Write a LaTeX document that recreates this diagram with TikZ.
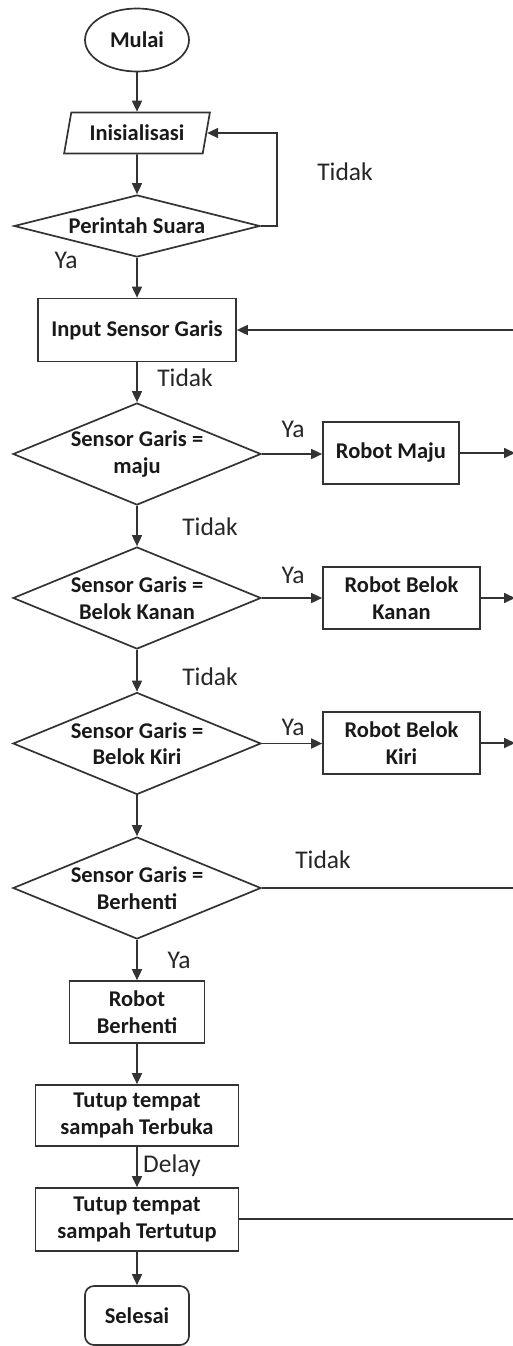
\documentclass[tikz,border=0pt]{standalone}
\usepackage{fontspec}
\setmainfont{Carlito}
\usetikzlibrary{shapes.geometric,arrows.meta}
\begin{document}
\begin{tikzpicture}[x=1pt,y=-1pt,
  line/.style={draw=black!80, line width=1.7pt},
  arr/.style={line, -{Triangle[length=11pt,width=10pt]}},
  box/.style={draw=black!80, line width=1.7pt, rectangle, inner sep=0pt, align=center,
              font=\fontsize{22.5}{26.5}\selectfont\bfseries, text=black!90},
  dec/.style={box, diamond, aspect=2.43, minimum width=248pt, minimum height=102pt},
  lbl/.style={font=\fontsize{25.5}{29}\selectfont, text=black!85, inner sep=0pt},
]
\useasboundingbox (0,0) rectangle (513,1346);
% nodes
\node[box, ellipse, minimum width=104pt, minimum height=63pt] (mulai) at (137,40) {Mulai};
\node[box, trapezium, trapezium left angle=72, trapezium right angle=108, trapezium stretches=true,
      minimum width=146pt, minimum height=41pt] (init) at (137,133) {Inisialisasi};
\node[dec, aspect=3.97, minimum width=246pt, minimum height=62pt] (ps) at (137,226) {Perintah Suara};
\node[box, minimum width=198pt, minimum height=63pt] (isg) at (137,330) {Input Sensor Garis};
\node[dec] (d1) at (137,454) {Sensor Garis =\\maju};
\node[box, minimum width=136pt, minimum height=62pt] (rm) at (391,453) {Robot Maju};
\node[dec] (d2) at (137,598) {Sensor Garis =\\Belok Kanan};
\node[box, minimum width=157pt, minimum height=62pt] (rka) at (401.5,598) {Robot Belok\\Kanan};
\node[dec] (d3) at (137,743.5) {Sensor Garis =\\Belok Kiri};
\node[box, minimum width=157pt, minimum height=62pt] (rki) at (401.5,743) {Robot Belok\\Kiri};
\node[dec] (d4) at (137,888) {Sensor Garis =\\Berhenti};
\node[box, minimum width=135pt, minimum height=62pt] (rb) at (137,1012) {Robot\\Berhenti};
\node[box, minimum width=203pt, minimum height=61pt] (tb) at (137,1115.5) {Tutup tempat\\sampah Terbuka};
\node[box, minimum width=203pt, minimum height=63pt] (tt) at (137,1219.5) {Tutup tempat\\sampah Tertutup};
\node[box, rounded corners=9pt, minimum width=104pt, minimum height=59pt] (sel) at (137,1315.5) {Selesai};
% labels
\node[lbl] (l1) at (345,172) {Tidak};
\node[lbl] (l2) at (66,260) {Ya};
\node[lbl] (l3) at (185,378) {Tidak};
\node[lbl] (l4) at (293,429) {Ya};
\node[lbl] (l5) at (210,527) {Tidak};
\node[lbl] (l6) at (293,575) {Ya};
\node[lbl] (l7) at (210,677) {Tidak};
\node[lbl] (l8) at (293,727) {Ya};
\node[lbl] (l9) at (323,860) {Tidak};
\node[lbl] (l10) at (179,960) {Ya};
\node[lbl] (l11) at (172,1166) {Delay};
% helper coordinates
\coordinate (lp) at (277,226);
\coordinate (ra) at (515,0);
\coordinate (rtop) at (518,330);
\coordinate (rbot) at (518,1219);
% connectors
\draw[arr] (mulai) -- (init);
\draw[arr] (init) -- (ps);
\draw[arr] (ps.east) -- (lp) |- (init.east);
\draw[arr] (ps) -- (isg);
\draw[arr] (isg) -- (d1);
\draw[arr] (d1.east) -- (d1.east -| rm.west);
\draw[arr] (rm.east) -- (rm.east -| ra);
\draw[arr] (d1) -- (d2);
\draw[arr] (d2.east) -- (d2.east -| rka.west);
\draw[arr] (rka.east) -- (rka.east -| ra);
\draw[arr] (d2) -- (d3);
\draw[arr] (d3.east) -- (d3.east -| rki.west);
\draw[arr] (rki.east) -- (rki.east -| ra);
\draw[arr] (d3) -- (d4);
\draw[line] (d4.east) -- (d4.east -| rtop);
\draw[arr] (d4) -- (rb);
\draw[arr] (rb) -- (tb);
\draw[arr] (tb) -- (tt);
\draw[arr] (tt) -- (sel);
\draw[line] (tt.east |- rbot) -- (rbot);
\draw[line] (rbot) -- (rtop);
\draw[arr] (rtop) -- (isg.east);
\end{tikzpicture}
\end{document}
